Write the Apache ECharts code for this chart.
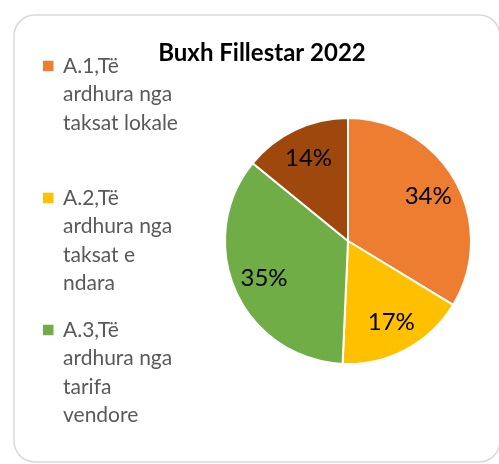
<!DOCTYPE html>
<html>
<head>
<meta charset="utf-8">
<script src="https://cdn.jsdelivr.net/npm/echarts@6/dist/echarts.min.js"></script>
<style>
  html, body { margin: 0; padding: 0; background: #fff; }
  #chart { width: 499px; height: 464px; }
</style>
</head>
<body>
<div id="chart"></div>
<script>
// slice names and shares
const categories = [
  'A.1,Të ardhura nga taksat lokale',
  'A.2,Të ardhura nga taksat e ndara',
  'A.3,Të ardhura nga tarifa vendore',
  'A.4'
]
const values = [33.7, 17.0, 35.2, 14.1]
const colors = ['#ED7D31', '#FFC000', '#70AD47', '#9E480E']

// legend text as it wraps in the original (only the first three fit)
const legendLabels = [
  'A.1,Të\nardhura nga\ntaksat lokale\n ',
  'A.2,Të\nardhura nga\ntaksat e\nndara',
  'A.3,Të\nardhura nga\ntarifa\nvendore'
]

const font = 'Lato, "Open Sans", sans-serif'
const chart = echarts.init(document.getElementById('chart'))

const pieData = categories.map((name, i) => ({
  name: name,
  value: values[i],
  itemStyle: { color: colors[i] }
}))

// square at the top of a tall icon box, so it sits next to the first text line
const legendIcon = 'path://M0,0M15,114M0,9.25h10.5v10.5h-10.5z'

chart.setOption({
  backgroundColor: '#fff',
  animation: false,
  title: {
    text: 'Buxh Fillestar 2022',
    left: 257,
    textAlign: 'center',
    top: 36,
    textStyle: { fontFamily: font, fontWeight: 'bold', fontSize: 24, color: '#000' }
  },
  legend: {
    orient: 'vertical',
    left: 43,
    top: 51.5,
    padding: 0,
    itemGap: 18,
    itemWidth: 15,
    itemHeight: 114,
    icon: legendIcon,
    itemStyle: { borderWidth: 0 },
    data: categories.slice(0, 3),
    formatter: name => legendLabels[categories.indexOf(name)],
    textStyle: { fontFamily: font, fontSize: 21, lineHeight: 28.5, color: '#595959' }
  },
  graphic: [{
    type: 'rect',
    shape: { x: 14, y: 15, width: 486, height: 447, r: 21 },
    style: { fill: 'none', stroke: '#d9d9d9', lineWidth: 1.5 },
    silent: true,
    z: -1
  }],
  series: [
    {
      type: 'pie',
      center: [348, 241],
      radius: [0, 123],
      startAngle: 90,
      clockwise: true,
      itemStyle: { borderColor: '#fff', borderWidth: 2 },
      label: { show: false },
      labelLine: { show: false },
      emphasis: { disabled: true },
      data: pieData
    },
    {
      // label ring: same slices, transparent, places the percentages further out
      type: 'pie',
      center: [348, 241],
      radius: [55, 123],
      startAngle: 90,
      clockwise: true,
      silent: true,
      itemStyle: { color: 'transparent', borderWidth: 0 },
      label: {
        show: true,
        position: 'inside',
        formatter: p => Math.round(p.percent) + '%',
        fontFamily: font,
        fontSize: 24,
        color: '#000'
      },
      labelLine: { show: false },
      emphasis: { disabled: true },
      data: categories.map((name, i) => ({ name: name, value: values[i] }))
    }
  ]
})
</script>
</body>
</html>
